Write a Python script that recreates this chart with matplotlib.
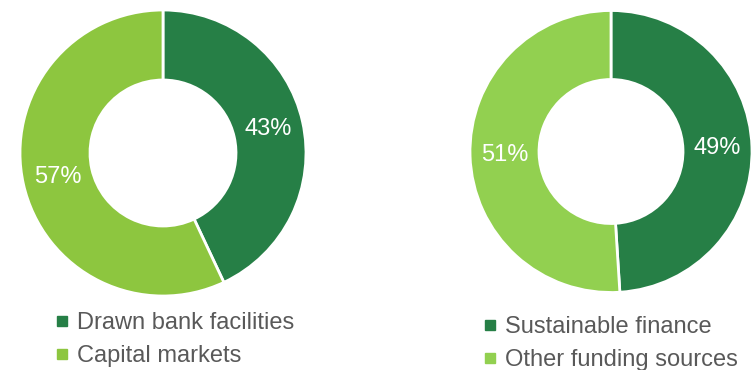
import matplotlib.pyplot as plt
from matplotlib.lines import Line2D

plt.rcParams['font.family'] = ['Liberation Sans', 'DejaVu Sans']

DARK = '#267f46'
LIGHT_L = '#8dc63f'
LIGHT_R = '#92d050'
GREY = '#595959'

# funding mix
mix_labels = ['Drawn bank facilities', 'Capital markets']
mix_values = [43, 57]

# sustainable share
sus_labels = ['Sustainable finance', 'Other funding sources']
sus_values = [49, 51]

W, H = 754, 370
fig = plt.figure(figsize=(W / 100, H / 100), dpi=100)


def donut(cx, cy, r, r_in, values, colors):
    ax = fig.add_axes([(cx - r) / W, (H - cy - r) / H, 2 * r / W, 2 * r / H])
    wedges, texts = ax.pie(values, colors=colors, startangle=90, counterclock=False,
                           radius=1, wedgeprops=dict(width=1 - r_in / r, edgecolor='white', linewidth=2),
                           labels=['%d%%' % v for v in values],
                           labeldistance=(1 + r_in / r) / 2,
                           textprops=dict(color='white', fontsize=17, ha='center', va='center'))
    ax.set_xlim(-1, 1)
    ax.set_ylim(-1, 1)
    ax.set_aspect('equal')
    ax.axis('off')
    return ax


def legend(x, y, labels, colors):
    handles = [Line2D([], [], marker='s', linestyle='none', markersize=7,
                      markerfacecolor=c, markeredgecolor=c) for c in colors]
    fig.legend(handles, labels, loc='upper left', bbox_to_anchor=(x / W, 1 - y / H),
               frameon=False, fontsize=17, labelcolor=GREY, handlelength=0.6,
               handletextpad=0.35, labelspacing=0.48, borderpad=0, borderaxespad=0)


donut(163, 153, 143, 73, mix_values, [DARK, LIGHT_L])
donut(611, 151.5, 141, 72, sus_values, [DARK, LIGHT_R])

legend(55, 312, mix_labels, [DARK, LIGHT_L])
legend(483, 316, sus_labels, [DARK, LIGHT_R])

fig.savefig('out.png', dpi=100)
